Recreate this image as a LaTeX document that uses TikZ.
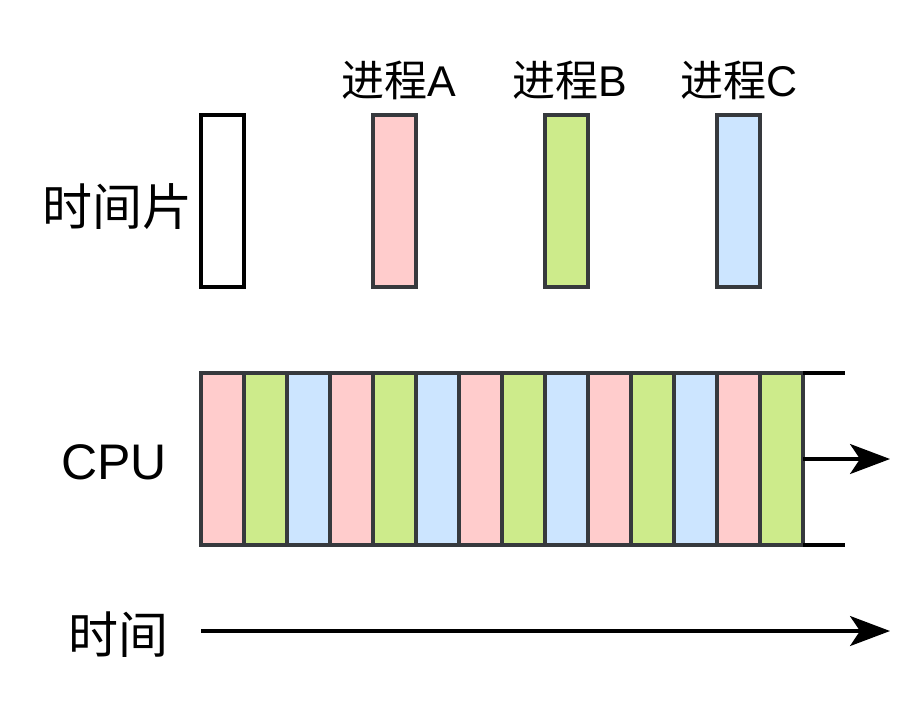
\documentclass[tikz,border=0pt]{standalone}
\usepackage{fontspec}
\setmainfont{Liberation Sans}
\newfontfamily\cjk{Noto Sans CJK SC}
\usetikzlibrary{arrows.meta}

\definecolor{procA}{HTML}{FFCCCC}
\definecolor{procB}{HTML}{CDEB8B}
\definecolor{procC}{HTML}{CCE5FF}
\definecolor{edge}{HTML}{36393D}

\tikzset{
  slice/.style={draw=edge, line width=1.8pt, minimum width=21.5pt, minimum height=86pt, inner sep=0pt, outer sep=0pt},
  label/.style={font=\fontsize{25pt}{29pt}\selectfont, inner sep=0pt},
  plabel/.style={font=\fontsize{21.5pt}{25pt}\selectfont, inner sep=0pt},
}

\begin{document}
\begin{tikzpicture}[x=0.5pt, y=-0.5pt, >={Stealth[length=20pt, width=15pt, inset=5pt]}]
  \useasboundingbox (0,0) rectangle (924,708);
  % time slice and processes
  \node[slice, draw=black, fill=white] (tslice) at (222.5,201) {};
  \node[slice, fill=procA] (pa) at (394.5,201) {};
  \node[slice, fill=procB] (pb) at (566.5,201) {};
  \node[slice, fill=procC] (pc) at (738.5,201) {};
  \node[plabel] (pa label) at (399,80) {{\cjk 进程}A};
  \node[plabel] (pb label) at (570,80) {{\cjk 进程}B};
  \node[plabel] (pc label) at (739,80) {{\cjk 进程}C};
  \node[label, font=\cjk\fontsize{25pt}{29pt}\selectfont] (tslice label) at (117,207) {时间片};
  % cpu strip
  \foreach \i/\c in {1/procA,2/procB,3/procC,4/procA,5/procB,6/procC,7/procA,8/procB,9/procC,10/procA,11/procB,12/procC,13/procA,14/procB}
    \node[slice, fill=\c] (cell\i) at ({222.5+43*(\i-1)},459) {};
  \node[label] (cpu label) at (114,462) {CPU};
  \coordinate (top end) at (845,373);
  \coordinate (bottom end) at (845,545);
  \coordinate (cpu end) at (890,459);
  \draw[line width=1.6pt] (cell14.north east) -- (top end);
  \draw[line width=1.6pt] (cell14.south east) -- (bottom end);
  \draw[->, line width=1.6pt] (cell14.east) -- (cpu end);
  % time axis
  \node[label, font=\cjk\fontsize{25pt}{29pt}\selectfont] (time label) at (118,635) {时间};
  \coordinate (time start) at (201,631);
  \coordinate (time end) at (890,631);
  \draw[->, line width=1.6pt] (time start) -- (time end);
\end{tikzpicture}
\end{document}
